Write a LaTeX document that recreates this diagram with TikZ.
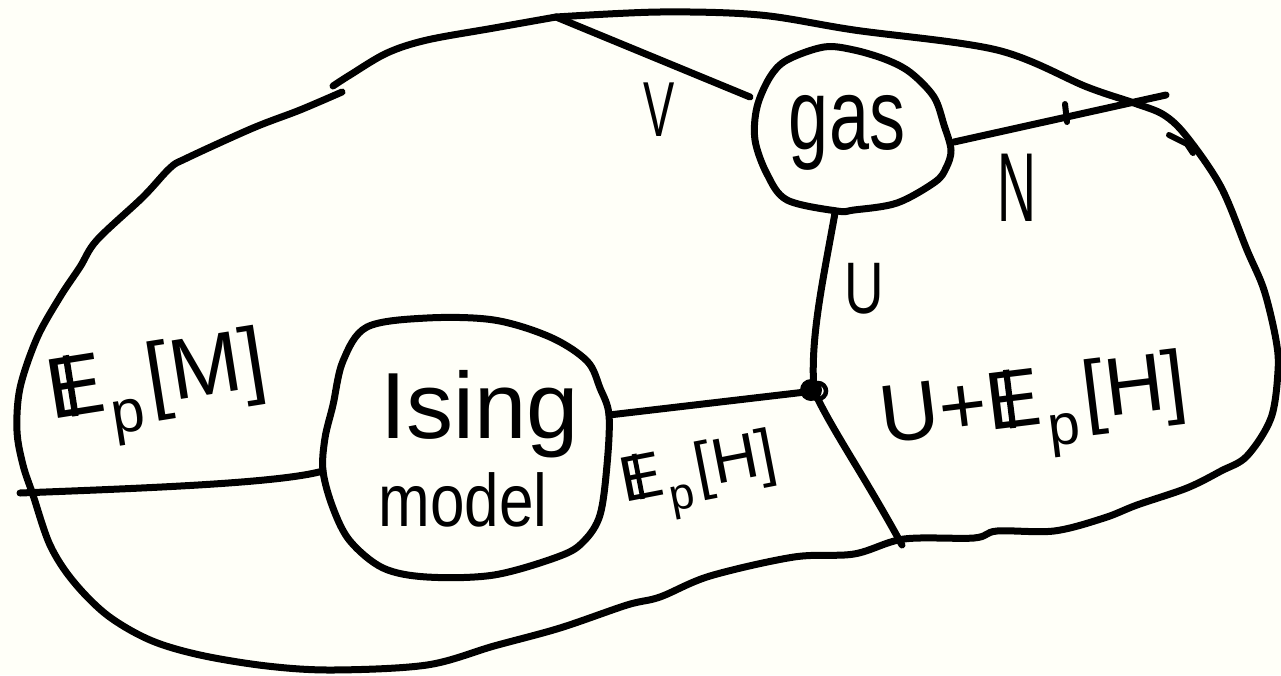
\documentclass[tikz,border=0pt]{standalone}
\usepackage{fontspec}
\setmainfont{Liberation Sans}
\usetikzlibrary{calc}
\definecolor{paper}{RGB}{255,255,248}
\newcommand\bbE{\makebox[0pt][l]{\kern0.25em\rule{0.075em}{0.716em}}E}
\newcommand\myEp{\bbE\kern0.04em\raisebox{-0.28em}{\scalebox{0.7}{p}}\kern0.08em}
\begin{document}
\begin{tikzpicture}[x=1pt,y=-1pt,
  ink/.style={draw=black, line width=7pt, line cap=round, line join=round},
  thinink/.style={draw=black, line width=6pt, line cap=round, line join=round},
  lbl/.style={inner sep=0pt, text=black}]
\useasboundingbox (0,0) rectangle (1281,675);
\fill[paper] (0,0) rectangle (1281,675);

% named attachment points
\coordinate (topcorner) at (556,17);
\coordinate (gasW) at (750,97);
\coordinate (gasE) at (954,142);
\coordinate (gasS) at (835,213);
\coordinate (nEnd) at (1166,95);
\coordinate (J) at (814,391);
\coordinate (isingE) at (609,415);
\coordinate (isingW) at (323,471);
\coordinate (leftEnd) at (20,493);
\coordinate (botEnd) at (902,545);

% outer region
\draw[ink] plot[smooth, tension=0.55] coordinates {
 (556,17) (660,12) (760,15) (854,30) (997,50) (1087,87) (1134,103) (1164,115)
 (1187,137) (1221,187) (1247,250) (1264,290) (1276,340) (1278,371) (1271,418)
 (1247,456) (1221,471) (1187,488) (1137,505) (1104,518) (1054,531) (997,531)
 (974,538) (904,539) (854,554) (794,557) (710,576) (660,597) (627,605) (560,628)
 (494,646) (427,665) (333,670) (267,666) (200,655) (150,640) (107,615) (73,581)
 (50,545) (33,495) (23,465) (17,431) (20,388) (37,338) (60,297) (80,267) (97,240)
 (143,197) (170,168) (187,158) (253,128) (300,110) (342,92)};
\draw[ink] plot[smooth, tension=0.55] coordinates {
 (333,86) (350,75) (387,53) (427,40) (494,28) (556,17)};

% gas blob
\draw[ink] plot[smooth cycle, tension=0.55] coordinates {
 (824,47) (854,50) (887,60) (911,73) (934,97) (944,125) (951,150) (946,168)
 (935,182) (897,203) (854,210) (837,211) (787,200) (767,174) (755,140)
 (757,107) (770,77) (787,60)};
\node[lbl, font=\fontsize{72}{80}\selectfont] (gas) at (847,133) {\scalebox{1}[1.4]{gas}};

% Ising blob
\draw[ink] plot[smooth cycle, tension=0.55] coordinates {
 (367,327) (427,318) (494,320) (550,337) (587,361) (600,388) (609,415) (607,465)
 (600,515) (584,541) (560,556) (494,575) (427,577) (383,568) (350,541) (333,508)
 (323,471) (325,438) (333,405) (343,361)};
\node[lbl, font=\fontsize{94}{100}\selectfont] (ising) at (480,414) {Ising};
\node[lbl, font=\fontsize{62}{70}\selectfont] (model) at (463,500) {\scalebox{1}[1.2]{model}};

% connectors
\draw[ink] (topcorner) -- (gasW);
\draw[ink] (gasE) -- (nEnd);
\draw[thinink] (1065,104) -- (1067,122);
\draw[ink] (gasS) .. controls (822,285) and (810,340) .. (J);
\draw[ink] (isingE) -- (J);
\draw[ink] (isingW) .. controls (280,483) and (150,488) .. (leftEnd);
\draw[ink] (J) .. controls (832,430) and (862,472) .. (botEnd);
\draw[thinink] (1169,135) -- (1187,144) -- (1193,153);

% junction dot
\fill (811,390) circle (11);
\draw[line width=4.5pt] (818,391) circle (8);

% labels
\node[lbl, font=\fontsize{78}{80}\selectfont] (V) at (659,110) {\scalebox{0.6}[1]{V}};
\node[lbl, font=\fontsize{98}{100}\selectfont] (N) at (1017,188) {\scalebox{0.55}[1]{N}};
\node[lbl, font=\fontsize{73}{80}\selectfont] (U) at (864,289) {\scalebox{0.75}[1]{U}};
\node[lbl, font=\fontsize{86}{90}\selectfont, rotate=9] (EM) at (158,390) {\myEp[M]};
\node[lbl, font=\fontsize{64}{70}\selectfont, rotate=11] (EH) at (700,478) {\myEp[H]};
\node[lbl, font=\fontsize{82}{90}\selectfont, rotate=7] (UEH) at (1035,413) {U+\myEp[H]};
\end{tikzpicture}
\end{document}
